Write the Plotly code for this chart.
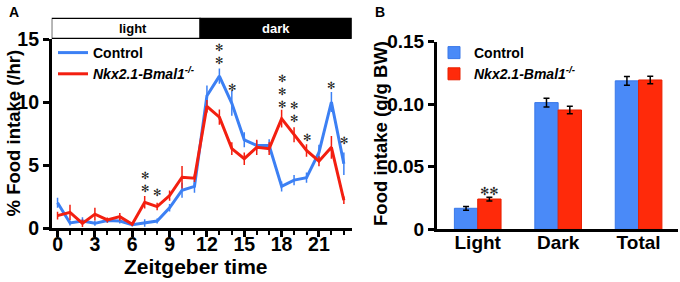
import plotly.graph_objects as go

# ---------------- data ----------------
hours = list(range(24))
ctrl_mean = [2.0, 0.4, 0.55, 0.37, 0.6, 0.55, 0.26, 0.4, 0.55, 1.6, 3.0, 3.3,
             10.5, 12.05, 9.9, 7.0, 6.55, 6.55, 3.3, 3.8, 4.0, 6.0, 10.0, 5.1]
ctrl_err = [0.4, 0.2, 0.3, 0.2, 0.2, 0.2, 0.15, 0.3, 0.2, 0.3, 0.6, 0.5,
            0.8, 0.6, 1.0, 0.6, 0.4, 0.5, 0.4, 0.4, 0.4, 0.6, 0.8, 0.9]
ko_mean = [0.98, 1.24, 0.37, 1.1, 0.64, 0.9, 0.3, 2.04, 1.7, 2.57, 4.03, 3.95,
           9.66, 8.8, 6.3, 5.5, 6.4, 6.3, 8.68, 7.4, 6.15, 5.3, 6.4, 2.2]
ko_err = [0.3, 0.6, 0.3, 0.5, 0.2, 0.3, 0.15, 0.5, 0.3, 0.4, 0.9, 0.3,
          0.5, 0.6, 0.5, 0.5, 0.6, 0.5, 0.7, 0.6, 0.5, 0.4, 0.9, 0.3]

star_hours = [7, 8, 13, 14, 18, 19, 20, 22, 23]
star_counts = [2, 1, 2, 1, 3, 2, 1, 1, 1]
star_base = [3.15, 2.79, 13.38, 11.15, 9.92, 8.73, 7.21, 11.33, 6.95]

phase_labels = ["light", "dark"]
phase_bounds = [-0.47, 11.45, 23.63]

x_ticks_a = [0, 3, 6, 9, 12, 15, 18, 21]
y_ticks_a = [0, 5, 10, 15]

categories = ["Light", "Dark", "Total"]
ctrl_bar = [0.0168, 0.1013, 0.1187]
ctrl_bar_err = [0.0015, 0.0035, 0.0035]
ko_bar = [0.0242, 0.0954, 0.1194]
ko_bar_err = [0.0015, 0.003, 0.003]
y_ticks_b = [0, 0.05, 0.10, 0.15]
y_ticktext_b = ["0", "0.05", "0.10", "0.15"]

ko_name = "<i>Nkx2.1-Bmal1</i><sup><i>-/-</i></sup>"

# ---------------- styles ----------------
BLUE_L = "#3c80f4"
RED_L = "#f31f10"
BLUE_B = "#4a8af8"
RED_B = "#ff2a0a"
FONT = "Liberation Sans, Arial, sans-serif"
STAR_SIZE = 9
STAR_LINE = 1.3 * STAR_SIZE

fig = go.Figure()

fig.add_trace(go.Scatter(
    x=hours, y=ctrl_mean, name="Control", mode="lines",
    line=dict(color=BLUE_L, width=3),
    error_y=dict(type="data", array=ctrl_err, color=BLUE_L, thickness=1.5, width=0),
    xaxis="x", yaxis="y", legend="legend"))
fig.add_trace(go.Scatter(
    x=hours, y=ko_mean, name=ko_name, mode="lines",
    line=dict(color=RED_L, width=3),
    error_y=dict(type="data", array=ko_err, color=RED_L, thickness=1.5, width=0),
    xaxis="x", yaxis="y", legend="legend"))

fig.add_trace(go.Bar(
    x=categories, y=ctrl_bar, name="Control",
    marker=dict(color=BLUE_B, line=dict(color="#3a78e8", width=1)),
    error_y=dict(type="data", array=ctrl_bar_err, color="black", thickness=1.5, width=3),
    xaxis="x2", yaxis="y2", legend="legend2"))
fig.add_trace(go.Bar(
    x=categories, y=ko_bar, name=ko_name,
    marker=dict(color=RED_B, line=dict(color="#e82000", width=1)),
    error_y=dict(type="data", array=ko_bar_err, color="black", thickness=1.5, width=3),
    xaxis="x2", yaxis="y2", legend="legend2"))

annotations = []
# asterisks panel A (stacked in one text per hour)
for h, n, b in zip(star_hours, star_counts, star_base):
    annotations.append(dict(
        x=h, y=b, xref="x", yref="y", text="<br>".join(["✻"] * n), showarrow=False,
        yshift=(n - 1) * STAR_LINE / 2, borderpad=0,
        font=dict(family="DejaVu Sans", size=STAR_SIZE + 1, color="#222"),
        xanchor="center", yanchor="middle"))
# asterisks panel B
annotations.append(dict(
    x=0.145, y=0.0301, xref="x2", yref="y2", text="✻✻", showarrow=False,
    font=dict(family="DejaVu Sans", size=11, color="#222"),
    xanchor="center", yanchor="middle"))

# light/dark bar
shapes = []
for i, lab in enumerate(phase_labels):
    dark = lab == "dark"
    shapes.append(dict(
        type="rect", xref="x", yref="paper",
        x0=phase_bounds[i], x1=phase_bounds[i + 1], y0=0.864, y1=0.935,
        fillcolor="black" if dark else "white",
        line=dict(color="black", width=1.2)))
    annotations.append(dict(
        x=(phase_bounds[i] + phase_bounds[i + 1]) / 2 + (0 if dark else 0.6),
        y=0.8995, xref="x", yref="paper", text=lab, showarrow=False,
        font=dict(size=13, color="white" if dark else "black", family=FONT, weight="bold"),
        xanchor="center", yanchor="middle"))

# titles and panel letters
annotations += [
    dict(x=13 / 680, y=0.527, xref="paper", yref="paper", text="% Food intake (/hr)",
         textangle=-90, showarrow=False, font=dict(size=18.5, family=FONT, weight="bold"),
         xanchor="center", yanchor="middle"),
    dict(x=196.5 / 680, y=1 - 266.7 / 282, xref="paper", yref="paper", text="Zeitgeber time",
         showarrow=False, font=dict(size=21, family=FONT, weight="bold"),
         xanchor="center", yanchor="middle"),
    dict(x=381 / 680, y=0.525, xref="paper", yref="paper", text="Food intake (g/g BW)",
         textangle=-90, showarrow=False, font=dict(size=18.5, family=FONT, weight="bold"),
         xanchor="center", yanchor="middle"),
    dict(x=14 / 680, y=1 - 12 / 282, xref="paper", yref="paper", text="A",
         showarrow=False, font=dict(size=14, family=FONT, weight="bold"),
         xanchor="center", yanchor="middle"),
    dict(x=380 / 680, y=1 - 12 / 282, xref="paper", yref="paper", text="B",
         showarrow=False, font=dict(size=14, family=FONT, weight="bold"),
         xanchor="center", yanchor="middle"),
]

axis_common = dict(showgrid=False, zeroline=False, showline=True, linecolor="black",
                   linewidth=2.5, ticks="outside", tickcolor="black", tickwidth=2.5,
                   ticklen=6, automargin=False)

fig.update_layout(
    width=680, height=282,
    margin=dict(l=0, r=0, t=0, b=0, pad=0, autoexpand=False),
    paper_bgcolor="white", plot_bgcolor="white",
    font=dict(family=FONT, color="black", weight="bold"),
    barmode="group", bargap=0.42, bargroupgap=0,
    xaxis=dict(domain=[51.7 / 680, 351.7 / 680], range=[-0.47, 23.63],
               tickvals=x_ticks_a, tickfont=dict(size=19.5), ticklabelstandoff=-9,
               minor=dict(dtick=1, ticks="outside", ticklen=4, tickwidth=2, tickcolor="black"),
               anchor="y", **axis_common),
    yaxis=dict(domain=[1 - 228 / 282, 1 - 39 / 282], range=[0, 15],
               tickvals=y_ticks_a, tickfont=dict(size=19.5), anchor="x", **axis_common),
    xaxis2=dict(domain=[436.7 / 680, 678 / 680], range=[-0.51, 2.49],
                tickfont=dict(size=19), anchor="y2", ticklabelstandoff=-6,
                **{**axis_common, "ticks": ""}),
    yaxis2=dict(domain=[1 - 229.3 / 282, 1 - 41.7 / 282], range=[0, 0.15],
                tickvals=y_ticks_b, ticktext=y_ticktext_b, tickfont=dict(size=19),
                anchor="x2", **axis_common),
    legend=dict(x=53 / 680, y=1 - 37 / 282, xanchor="left", yanchor="top",
                bgcolor="rgba(0,0,0,0)", font=dict(size=14), tracegroupgap=0,
                itemwidth=30),
    legend2=dict(x=434 / 680, y=1 - 37 / 282, xanchor="left", yanchor="top",
                 bgcolor="rgba(0,0,0,0)", font=dict(size=14), tracegroupgap=0),
    shapes=shapes,
    annotations=annotations,
    showlegend=True,
)

fig.write_html(
    "out.html",
    config={"displayModeBar": False},
    post_script="document.body.style.margin='0';document.body.style.padding='0';"
                "document.documentElement.style.overflow='hidden';",
)
